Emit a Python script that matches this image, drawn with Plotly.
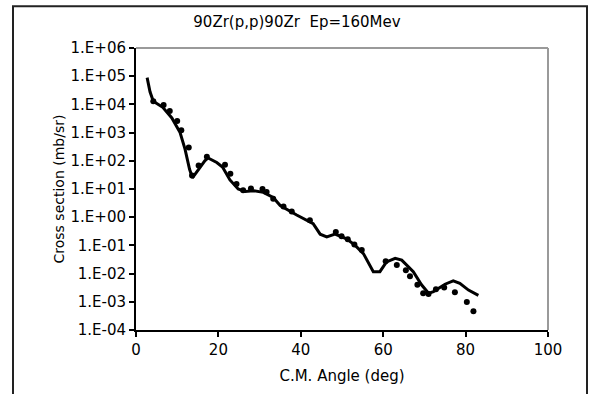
import plotly.graph_objects as go

# Calculated curve (C.M. angle in deg, cross section in mb/sr)
curve_angle = [2.7, 3.4, 4.2, 6.5, 8.7, 10.7, 11.9, 13.0, 13.7, 15.1, 16.7, 17.5, 19.6, 21.0,
               22.8, 24.8, 26.5, 28.5, 30.9, 33.3, 35.0, 39.0, 43.0, 44.7, 46.3, 48.3, 51.1,
               53.2, 55.2, 57.6, 59.2, 60.8, 62.9, 64.5, 67.3, 69.3, 71.0, 72.2, 75.0, 77.0,
               78.6, 80.7, 83.1]
curve_xs = [8.9e4, 2.8e4, 1.3e4, 7.9e3, 3.3e3, 1.0e3, 2.6e2, 50, 25, 48, 100, 126, 87, 60,
            21, 10, 8.1, 8.7, 7.6, 5.0, 2.6, 1.2, 0.59, 0.25, 0.20, 0.25, 0.17,
            0.10, 0.051, 0.0117, 0.0117, 0.026, 0.035, 0.030, 0.0117, 0.0040, 0.0020, 0.0023,
            0.0042, 0.0055, 0.0045, 0.0026, 0.0017]

# Experimental points
exp_angle = [4.2, 6.7, 8.2, 10.0, 11.0, 12.8, 13.6, 15.2, 17.2, 21.6, 22.9, 24.4, 26.0, 27.9,
             30.7, 31.7, 33.3, 35.8, 37.8, 42.2, 48.5, 49.9, 51.4, 53.0, 54.8, 60.6, 63.3,
             65.5, 66.5, 68.3, 69.7, 71.0, 72.8, 74.8, 77.4, 80.3, 81.9]
exp_xs = [1.3e4, 9.5e3, 5.8e3, 2.6e3, 1.2e3, 295, 30, 68, 138, 72, 35, 15, 9.1, 10.5,
          10, 7.9, 4.5, 2.4, 1.6, 0.78, 0.30, 0.21, 0.166, 0.107, 0.068, 0.0275, 0.020,
          0.0132, 0.0081, 0.0040, 0.0020, 0.0019, 0.0028, 0.0032, 0.0022, 0.00098, 0.00046]

y_tickvals = [1e-4, 1e-3, 1e-2, 1e-1, 1e0, 1e1, 1e2, 1e3, 1e4, 1e5, 1e6]
y_ticktext = ["1.E-04", "1.E-03", "1.E-02", "1.E-01", "1.E+00", "1.E+01", "1.E+02",
              "1.E+03", "1.E+04", "1.E+05", "1.E+06"]
x_tickvals = [0, 20, 40, 60, 80, 100]

title_text = "90Zr(p,p)90Zr  Ep=160Mev"
x_title = "C.M. Angle (deg)"
y_title = "Cross section (mb/sr)"

FONT = "DejaVu Sans"

fig = go.Figure()
fig.add_trace(go.Scatter(x=exp_angle, y=exp_xs, mode="markers",
                         marker=dict(color="black", size=6), showlegend=False, cliponaxis=False))
fig.add_trace(go.Scatter(x=curve_angle, y=curve_xs, mode="lines",
                         line=dict(color="black", width=3), showlegend=False))

W, H = 593, 394
L, R, T, B = 136, 548, 48, 332
pw, ph = R - L, B - T

def px(xp):
    return (xp - L) / pw

def py(yp):
    return (B - yp) / ph

fig.update_layout(
    width=W, height=H,
    margin=dict(l=L, r=W - R, t=T, b=H - B, pad=0),
    paper_bgcolor="white", plot_bgcolor="white",
    font=dict(family=FONT, size=15, color="black"),
    title=dict(text=title_text, x=px(297), xref="paper", xanchor="center",
               y=1 - 22 / H, yanchor="middle", font=dict(family=FONT, size=15, color="black")),
    xaxis=dict(range=[0, 100], tickvals=x_tickvals, showgrid=False, zeroline=False,
               showline=True, linecolor="black", linewidth=2, ticks="outside",
               ticklen=5, tickwidth=1.5, tickcolor="black",
               title=dict(text=x_title, standoff=12, font=dict(size=15, color="black"))),
    yaxis=dict(type="log", range=[-4, 6], tickvals=y_tickvals, ticktext=y_ticktext,
               showgrid=False, zeroline=False, showline=True, linecolor="black",
               linewidth=2, ticks="outside", ticklen=5, tickwidth=1.5, tickcolor="black",
               title=dict(text=y_title, standoff=3, font=dict(size=14, color="black"))),
    shapes=[
        dict(type="line", xref="paper", yref="paper", x0=0, x1=1, y0=1, y1=1,
             line=dict(color="#9a9a9a", width=2)),
        dict(type="line", xref="paper", yref="paper", x0=1, x1=1, y0=0, y1=1,
             line=dict(color="#9a9a9a", width=2)),
        dict(type="rect", xref="paper", yref="paper", x0=px(13), x1=px(587),
             y0=py(420), y1=py(6), line=dict(color="#222222", width=2)),
    ],
)

fig.write_html("out.html")
